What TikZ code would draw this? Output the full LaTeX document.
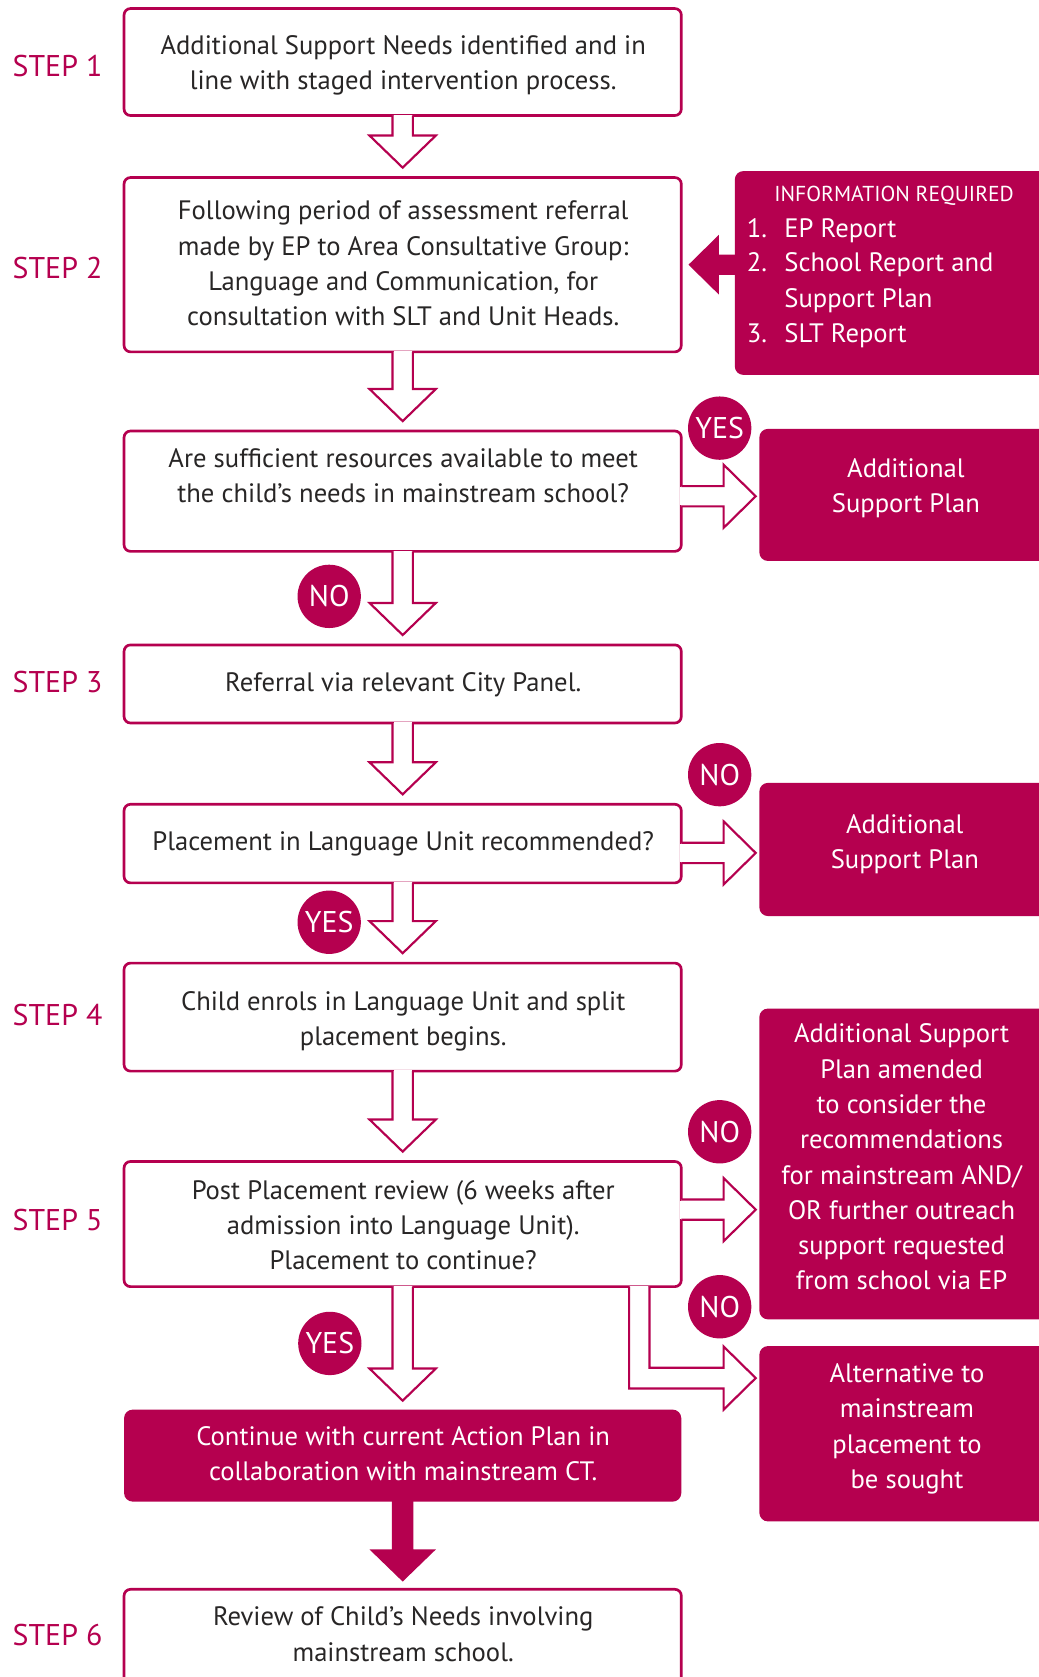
\documentclass[tikz,border=0pt]{standalone}
\usepackage{fontspec}
\setmainfont{PT Sans}
\usetikzlibrary{calc,fit}
\definecolor{mag}{RGB}{181,0,79}
\definecolor{ink}{RGB}{40,38,38}
\newcommand\mainsize{\fontsize{12.45}{16.5}\selectfont}
\newcommand\bigsize{\fontsize{14}{16}\selectfont}
\newcommand\capsize{\fontsize{10.1}{12}\selectfont}
\newcommand\SL[1]{\strut#1\strut}
\tikzset{
  box/.style={draw=mag, line width=1.25pt, rounded corners=3pt, fill=white, inner sep=0pt},
  solidbox/.style={fill=mag, rounded corners=4pt, inner sep=0pt},
  arr/.style={draw=mag, line width=1pt, line join=miter, fill=white},
  mtext/.style={text=ink, font=\mainsize, align=center, inner sep=0pt},
  wtext/.style={text=white, font=\mainsize, align=center, inner sep=0pt},
  steplabel/.style={text=mag, font=\bigsize, anchor=base west, inner sep=0pt},
  badge/.style={circle, fill=mag, text=white, font=\bigsize, minimum size=29.6pt, inner sep=0pt}
}
% hollow arrow going down from #1 to #2
\newcommand\hollowdown[2]{%
  \fill[white] ($(#1.south)+(-8.5,-2)$) rectangle ($(#1.south)+(8.5,2)$);
  \filldraw[arr] ($(#1.south)+(-9.5,-1.2)$) -- ($(#2.north)+(-9.5,-38)$) -- ($(#2.north)+(-31,-38)$)
     -- ($(#2.north)+(0,-8)$) -- ($(#2.north)+(31,-38)$) -- ($(#2.north)+(9.5,-38)$) -- ($(#1.south)+(9.5,-1.2)$);
}
% hollow arrow going right from #1 to #2 at height #3
\newcommand\hollowright[3]{%
  \fill[white] ($(#1.east |- 0,#3)+(-2,-8.5)$) rectangle ($(#1.east |- 0,#3)+(2,8.5)$);
  \filldraw[arr] ($(#1.east |- 0,#3)+(-1.2,-9.5)$) -- ($(#2.west |- 0,#3)+(-33,-9.5)$) -- ($(#2.west |- 0,#3)+(-33,-29.5)$)
     -- ($(#2.west |- 0,#3)+(-3,0)$) -- ($(#2.west |- 0,#3)+(-33,29.5)$) -- ($(#2.west |- 0,#3)+(-33,9.5)$) -- ($(#1.east |- 0,#3)+(-1.2,9.5)$);
}
\begin{document}
\begin{tikzpicture}[x=0.5pt,y=-0.5pt]
\useasboundingbox (0,0) rectangle (971,1568);
\fill[white] (0,0) rectangle (971,1568);
% boxes
\node[box, fit={(116,8) (637,108)}] (b1) {};
\node[box, fit={(116,166) (637,329)}] (b2) {};
\node[box, fit={(116,403) (637,515.5)}] (b3) {};
\node[box, fit={(116,603) (637,676)}] (b4) {};
\node[box, fit={(116,752) (637,825.5)}] (b5) {};
\node[box, fit={(116,900.5) (637,1001.5)}] (b6) {};
\node[box, fit={(116,1086) (637,1203)}] (b7) {};
\node[solidbox, fit={(116,1318) (637,1404)}] (b8) {};
\node[box, fit={(116,1486) (637,1640)}] (b9) {};
\node[solidbox, fit={(687,160) (1000,350.5)}] (info) {};
\node[solidbox, fit={(710,401) (1000,524.5)}] (asp1) {};
\node[solidbox, fit={(710,732) (1000,856.5)}] (asp2) {};
\node[solidbox, fit={(710,943) (1000,1233.6)}] (asp3) {};
\node[solidbox, fit={(710,1258.6) (1000,1422.5)}] (alt) {};
% down arrows
\hollowdown{b1}{b2}
\hollowdown{b2}{b3}
\hollowdown{b3}{b4}
\hollowdown{b4}{b5}
\hollowdown{b5}{b6}
\hollowdown{b6}{b7}
\hollowdown{b7}{b8}
% right arrows
\hollowright{b3}{asp1}{464}
\hollowright{b5}{asp2}{797.5}
\hollowright{b7}{asp3}{1131}
% L-shaped arrow b7 -> alt
\coordinate (ltip) at ($(alt.west |- 0,1288.5)+(-3,0)$);
\coordinate (lo) at ($(b7.south east)+(-50,-1.2)$);
\coordinate (li) at ($(b7.south east)+(-31,-1.2)$);
\fill[white] ($(b7.south east)+(-49,-2)$) rectangle ($(b7.south east)+(-32,2)$);
\filldraw[arr] (lo) -- ($(lo |- ltip)+(0,9.7)$) -- ($(ltip)+(-30,9.7)$) -- ($(ltip)+(-30,29.5)$)
   -- (ltip) -- ($(ltip)+(-30,-29.5)$) -- ($(ltip)+(-30,-9.7)$) -- ($(li |- ltip)+(0,-9.7)$) -- (li);
% filled arrows
\fill[mag] ($(info.west |- b2.east)+(1,-9.4)$) -- ($(b2.east)+(34,-9.4)$) -- ($(b2.east)+(34,-28)$)
   -- ($(b2.east)+(5.5,0)$) -- ($(b2.east)+(34,28)$) -- ($(b2.east)+(34,9.4)$) -- ($(info.west |- b2.east)+(1,9.4)$) -- cycle;
\fill[mag] ($(b8.south)+(-10,-1)$) -- ($(b9.north)+(-10,-36)$) -- ($(b9.north)+(-31,-36)$)
   -- ($(b9.north)+(0,-6)$) -- ($(b9.north)+(31,-36)$) -- ($(b9.north)+(10,-36)$) -- ($(b8.south)+(10,-1)$) -- cycle;
% texts
\node[mtext] (t1) at (377,61) {\SL{Additional Support Needs identified and in\\line with staged intervention process.}};
\node[mtext] (t2) at (377,248.5) {\SL{Following period of assessment referral\\made by EP to Area Consultative Group:\\Language and Communication, for\\consultation with SLT and Unit Heads.}};
\node[mtext] (t3) at (377,447) {\SL{Are sufficient resources available to meet\\the child’s needs in mainstream school?}};
\node[mtext] (t4) at (377,639.5) {\SL{Referral via relevant City Panel.}};
\node[mtext] (t5) at (377,788.5) {\SL{Placement in Language Unit recommended?}};
\node[mtext] (t6) at (377,954.5) {\SL{Child enrols in Language Unit and split\\placement begins.}};
\node[mtext] (t7) at (377,1147.5) {\SL{Post Placement review (6 weeks after\\admission into Language Unit).\\Placement to continue?}};
\node[wtext] (t8) at (377,1361) {\SL{Continue with current Action Plan in\\collaboration with mainstream CT.}};
\node[mtext] (t9) at (377,1530) {\SL{Review of Child’s Needs involving\\mainstream school.}};
% info box
\node[wtext, font=\capsize, anchor=base] (ih) at (836,188.5) {INFORMATION REQUIRED};
\node[wtext, anchor=base west] (n1) at (698,221.6) {1.};
\node[wtext, anchor=base west] (e1) at (733,221.6) {EP Report};
\node[wtext, anchor=base west] (n2) at (698,254) {2.};
\node[wtext, anchor=base west] (e2) at (733,254) {School Report and};
\node[wtext, anchor=base west] (e2b) at (733,287.6) {Support Plan};
\node[wtext, anchor=base west] (n3) at (698,320.3) {3.};
\node[wtext, anchor=base west] (e3) at (733,320.3) {SLT Report};
% right boxes text
\node[wtext] (a1) at (847,456.5) {\SL{Additional\\Support Plan}};
\node[wtext] (a2) at (846,789) {\SL{Additional\\Support Plan}};
\node[wtext] (a3) at (843,1084) {\SL{Additional Support\\Plan amended\\to consider the\\recommendations\\for mainstream AND/\\OR further outreach\\support requested\\from school via EP}};
\node[wtext] (a4) at (848,1335.5) {\SL{Alternative to\\mainstream\\placement to\\be sought}};
% step labels
\node[steplabel] (s1) at (11.5,71.5) {STEP 1};
\node[steplabel] (s2) at (11.5,260.5) {STEP 2};
\node[steplabel] (s3) at (11.5,647.5) {STEP 3};
\node[steplabel] (s4) at (11.5,958.5) {STEP 4};
\node[steplabel] (s5) at (11.5,1150.5) {STEP 5};
\node[steplabel] (s6) at (11.5,1538.5) {STEP 6};
% badges
\node[badge] (yes1) at (672.9,400.3) {YES};
\node[badge] (no1) at (307.8,557.6) {NO};
\node[badge] (no2) at (672.9,724.3) {NO};
\node[badge] (yes2) at (307.8,862.3) {YES};
\node[badge] (no3) at (672.9,1058.2) {NO};
\node[badge] (no4) at (672.9,1221.8) {NO};
\node[badge] (yes3) at (308.4,1256.1) {YES};
\end{tikzpicture}
\end{document}
